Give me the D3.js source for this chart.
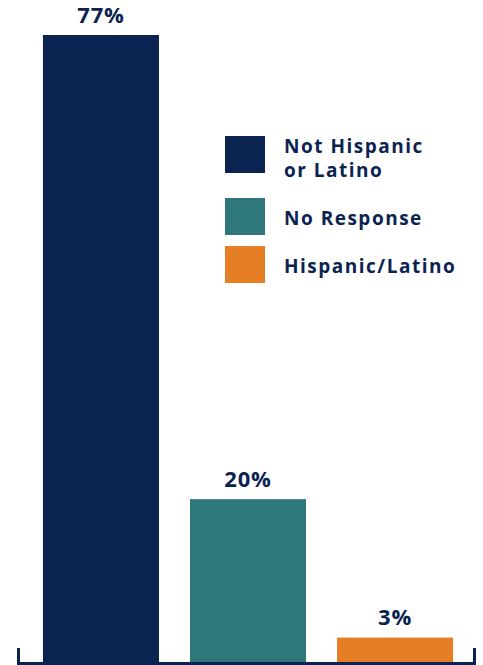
<!DOCTYPE html>
<html>
<head>
<meta charset="utf-8">
<script src="https://cdn.jsdelivr.net/npm/d3@7.9.0/dist/d3.min.js"></script>
<style>
  html, body { margin: 0; padding: 0; background: #fff; }
  svg { display: block; }
  text { font-family: "Open Sans", Lato, sans-serif; font-weight: 700; fill: #0b2351; }
</style>
</head>
<body>
<svg id="chart" width="483" height="665"></svg>
<script>
// Data
const categories = ['Not Hispanic or Latino', 'No Response', 'Hispanic/Latino'];
const values = [77, 20, 3];
const valueLabels = ['77%', '20%', '3%'];
const legendLines = [['Not Hispanic', 'or Latino'], ['No Response'], ['Hispanic/Latino']];
const colors = ['#0a2351', '#2e787c', '#e57e25'];

const svg = d3.select('#chart');
const navy = '#0b2351';

// Scales
const x = d3.scaleBand()
  .domain(categories)
  .range([20, 476])
  .paddingInner(0.211)
  .paddingOuter(0.156);

const y = d3.scaleLinear().domain([0, 77]).range([662, 35]);
const color = d3.scaleOrdinal().domain(categories).range(colors);

// Bars
svg.selectAll('rect.bar')
  .data(categories)
  .join('rect')
  .attr('class', 'bar')
  .attr('x', d => x(d))
  .attr('width', x.bandwidth())
  .attr('y', (d, i) => y(values[i]))
  .attr('height', (d, i) => y(0) - y(values[i]))
  .attr('fill', d => color(d));

// Value labels
svg.selectAll('text.val')
  .data(categories)
  .join('text')
  .attr('class', 'val')
  .attr('x', d => x(d) + x.bandwidth() / 2)
  .attr('y', (d, i) => y(values[i]) - 12.5)
  .attr('text-anchor', 'middle')
  .style('font-size', '22px')
  .style('letter-spacing', '0.8px')
  .text((d, i) => valueLabels[i]);

// Bracket-style baseline
const [r0, r1] = x.range();
svg.append('path')
  .attr('d', `M${r0 - 1.5},648 V663.5 H${r1 - 1.5} V648`)
  .attr('fill', 'none')
  .attr('stroke', navy)
  .attr('stroke-width', 3);

// Legend
const legendY = [136, 198, 246];
const legend = svg.append('g');
const items = legend.selectAll('g')
  .data(categories)
  .join('g')
  .attr('transform', (d, i) => `translate(225,${legendY[i]})`);

items.append('rect')
  .attr('width', 40)
  .attr('height', 37)
  .attr('fill', d => color(d));

items.append('text')
  .attr('x', 59)
  .attr('y', (d, i) => legendLines[i].length > 1 ? 17 : 27)
  .style('font-size', '19px')
  .style('letter-spacing', '1.5px')
  .selectAll('tspan')
  .data((d, i) => legendLines[i])
  .join('tspan')
  .attr('x', 59)
  .attr('dy', (d, j) => j === 0 ? 0 : 23.5)
  .text(d => d);
</script>
</body>
</html>
